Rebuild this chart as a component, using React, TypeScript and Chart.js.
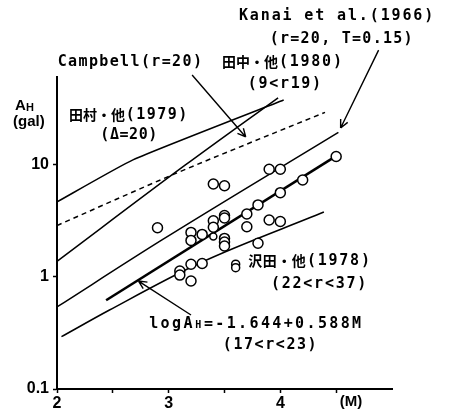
import React, { useEffect, useRef } from 'react';
import { Chart, registerables } from 'chart.js';

Chart.register(...registerables);

// ---- axes ----
const xTicks = [2, 2.5, 3, 3.5, 4, 4.5];
const xTickLabels = ['2', '', '3', '', '4', ''];
const yTicks = [0.1, 1, 10];
const yTickLabels = ['0.1', '1', '10'];

// ---- observed data (M, AH gal) ----
const obsM = [2.9, 3.1, 3.1, 3.2, 3.2, 3.2, 3.2, 3.3, 3.3, 3.4, 3.4, 3.4, 3.5, 3.5, 3.5, 3.5, 3.5, 3.5, 3.7, 3.7, 3.8, 3.8, 3.9, 3.9, 4.0, 4.0, 4.0, 4.2, 4.5];
const obsA = [2.75, 1.13, 1.04, 2.5, 2.12, 1.3, 0.92, 2.4, 1.32, 6.77, 3.18, 2.78, 6.53, 3.54, 3.36, 2.21, 2.05, 1.89, 3.65, 2.81, 4.4, 2.0, 9.16, 3.23, 9.16, 5.66, 3.13, 7.35, 11.9];
const smallM = [3.4];
const smallA = [2.3];
const pairM = [3.6, 3.6];
const pairA = [1.3, 1.21];

// ---- relations ----
const tamuraM = [2.0, 2.68, 4.03];
const tamuraA = [4.68, 11.1, 38];
const tanakaM = [2.0, 3.15, 3.98];
const tanakaA = [1.38, 10.0, 39.8];
const campbellM = [2.0, 3.0, 4.4];
const campbellA = [2.88, 7.9, 29.5];
const kanaiM = [2.0, 2.94, 4.52];
const kanaiA = [0.54, 2.14, 19.5];
const regM = [2.44, 4.48];
const regA = [0.62, 11.7];
const sawadaM = [2.04, 2.47, 3.27, 4.39];
const sawadaA = [0.293, 0.507, 1.32, 3.8];

// ---- annotation arrows (tail -> head, data coords) ----
const campbellArrowM = [3.21, 3.69];
const campbellArrowA = [63.6, 17.8];
const kanaiArrowM = [4.88, 4.54];
const kanaiArrowA = [106, 21.4];
const regArrowM = [3.2, 2.73];
const regArrowA = [0.458, 0.92];

const pts = (m: number[], a: number[]) => m.map((v, i) => ({ x: v, y: a[i] }));

const MONO = '"DejaVu Sans Mono", monospace';
const CJK = '"Noto Sans CJK JP", sans-serif';
const SANS = '"Liberation Sans", Arial, sans-serif';

// '_' prefix marks the next char as a small (subscript-like) character
function drawSpaced(ctx: CanvasRenderingContext2D, text: string, left: number, cy: number, adv = 10.8, cjkAdv = 14) {
  let x = left;
  ctx.textAlign = 'center';
  ctx.textBaseline = 'middle';
  let small = false;
  for (const ch of text) {
    if (ch === '_') { small = true; continue; }
    const cjk = /[\u3000-\u9fff\uff00-\uffef]/.test(ch);
    let a = cjk ? cjkAdv : adv;
    if (small) {
      a = adv * 0.8;
      ctx.font = `bold 10px ${MONO}`;
      ctx.fillText(ch, x + a / 2, cy + 1.5);
      small = false;
      x += a;
      continue;
    }
    ctx.font = cjk ? `bold 14px ${CJK}` : `bold 15px ${MONO}`;
    if (ch !== ' ') ctx.fillText(ch, x + a / 2, cy);
    x += a;
  }
}

function drawArrow(ctx: CanvasRenderingContext2D, x1: number, y1: number, x2: number, y2: number) {
  ctx.beginPath();
  ctx.moveTo(x1, y1);
  ctx.lineTo(x2, y2);
  const ang = Math.atan2(y2 - y1, x2 - x1);
  const L = 9;
  ctx.moveTo(x2, y2);
  ctx.lineTo(x2 - L * Math.cos(ang - 0.45), y2 - L * Math.sin(ang - 0.45));
  ctx.moveTo(x2, y2);
  ctx.lineTo(x2 - L * Math.cos(ang + 0.45), y2 - L * Math.sin(ang + 0.45));
  ctx.stroke();
}

const annotationPlugin = {
  id: 'annotations',
  beforeDraw(chart: any) {
    const ctx = chart.ctx;
    ctx.save();
    ctx.fillStyle = '#fff';
    ctx.fillRect(0, 0, chart.width, chart.height);
    ctx.restore();
  },
  afterDraw(chart: any) {
    const ctx: CanvasRenderingContext2D = chart.ctx;
    const xs = chart.scales.x;
    const ys = chart.scales.y;
    ctx.save();
    ctx.fillStyle = '#000';
    ctx.strokeStyle = '#000';
    ctx.lineWidth = 1.4;

    const arrows: [number[], number[]][] = [
      [campbellArrowM, campbellArrowA],
      [kanaiArrowM, kanaiArrowA],
      [regArrowM, regArrowA],
    ];
    arrows.forEach(([m, a]) => {
      drawArrow(
        ctx,
        xs.getPixelForValue(m[0]), ys.getPixelForValue(a[0]),
        xs.getPixelForValue(m[1]), ys.getPixelForValue(a[1])
      );
    });

    drawSpaced(ctx, 'Kanai et al.(1966)', 238, 16, 10.9);
    drawSpaced(ctx, '(r=20, T=0.15)', 269, 39, 10.3);
    drawSpaced(ctx, 'Campbell(r=20)', 57, 62, 10.4);
    drawSpaced(ctx, '田中・他(1980)', 222, 62, 10.8, 14);
    drawSpaced(ctx, '(9<r19)', 247, 84, 10.7);
    drawSpaced(ctx, '田村・他(1979)', 69, 115, 10.5, 14);
    drawSpaced(ctx, '(Δ=20)', 100, 135, 9.6);
    drawSpaced(ctx, '沢田・他(1978)', 248, 261, 10.8, 14.5);
    drawSpaced(ctx, '(22<r<37)', 270, 284, 10.8);
    drawSpaced(ctx, 'logA_H=-1.644+0.588M', 148, 324, 11.4);
    drawSpaced(ctx, '(17<r<23)', 222, 345, 10.6);

    // axis titles
    ctx.textBaseline = 'middle';
    ctx.textAlign = 'left';
    ctx.font = `bold 15px ${SANS}`;
    ctx.fillText('A', 15, 106);
    ctx.font = `bold 11px ${SANS}`;
    ctx.fillText('H', 26, 108);
    ctx.font = `bold 15px ${SANS}`;
    ctx.fillText('(gal)', 13, 122);
    ctx.textAlign = 'center';
    ctx.fillText('(M)', 351, 402);
    ctx.restore();
  },
};

export default function App() {
  const ref = useRef<HTMLCanvasElement>(null);
  useEffect(() => {
    const canvas = ref.current!;
    const lineDs = (m: number[], a: number[], extra: any = {}) => ({
      data: pts(m, a),
      showLine: true,
      borderColor: '#000',
      borderWidth: 1.5,
      pointRadius: 0,
      fill: false,
      cubicInterpolationMode: 'monotone',
      ...extra,
    });
    const pointDs = (m: number[], a: number[], r: number) => ({
      data: pts(m, a),
      showLine: false,
      pointRadius: r,
      pointStyle: 'circle',
      pointBorderColor: '#000',
      pointBackgroundColor: '#fff',
      pointBorderWidth: 1.5,
      borderColor: '#000',
      backgroundColor: '#fff',
    });
    const chart = new Chart(canvas, {
      type: 'scatter',
      data: {
        datasets: [
          pointDs(obsM, obsA, 5),
          pointDs(smallM, smallA, 3.5),
          pointDs(pairM, pairA, 4),
          lineDs(regM, regA, { borderWidth: 2.6 }),
          lineDs(tamuraM, tamuraA, { cubicInterpolationMode: 'default', tension: 0.15 }),
          lineDs(tanakaM, tanakaA),
          lineDs(campbellM, campbellA, { borderDash: [5, 4] }),
          lineDs(kanaiM, kanaiA),
          lineDs(sawadaM, sawadaA),
        ] as any,
      },
      options: {
        animation: false,
        responsive: false,
        devicePixelRatio: 1,
        layout: { padding: { top: 77, right: 61, left: 0, bottom: 0 } },
        plugins: { legend: { display: false }, tooltip: { enabled: false } },
        scales: {
          x: {
            type: 'linear',
            min: 2,
            max: 5,
            afterFit: (s: any) => { s.height = 27; },
            afterBuildTicks: (s: any) => { s.ticks = xTicks.map((v) => ({ value: v })); },
            ticks: {
              autoSkip: false,
              maxRotation: 0,
              padding: 1,
              color: '#000',
              font: { family: SANS, weight: 'bold', size: 16 },
              callback: (v: any) => xTickLabels[xTicks.indexOf(Number(v))] ?? '',
            },
            grid: { drawOnChartArea: false, drawTicks: true, tickLength: 4, tickColor: '#000', tickWidth: 1.5 },
            border: { display: true, color: '#000', width: 2 },
          },
          y: {
            type: 'logarithmic',
            min: 0.1,
            max: 61,
            afterFit: (s: any) => { s.width = 57; },
            afterBuildTicks: (s: any) => { s.ticks = yTicks.map((v) => ({ value: v })); },
            ticks: {
              autoSkip: false,
              padding: 4,
              color: '#000',
              font: { family: SANS, weight: 'bold', size: 16 },
              callback: (v: any) => yTickLabels[yTicks.indexOf(Number(v))] ?? '',
            },
            grid: { drawOnChartArea: false, drawTicks: true, tickLength: 4, tickColor: '#000', tickWidth: 1.5 },
            border: { display: true, color: '#000', width: 2 },
          },
        },
      } as any,
      plugins: [annotationPlugin],
    });
    return () => chart.destroy();
  }, []);
  return (
    <div style={{ position: 'fixed', left: 0, top: 0, width: 453, height: 416, background: '#fff' }}>
      <canvas ref={ref} width={453} height={416} style={{ display: 'block', width: 453, height: 416 }} />
    </div>
  );
}
